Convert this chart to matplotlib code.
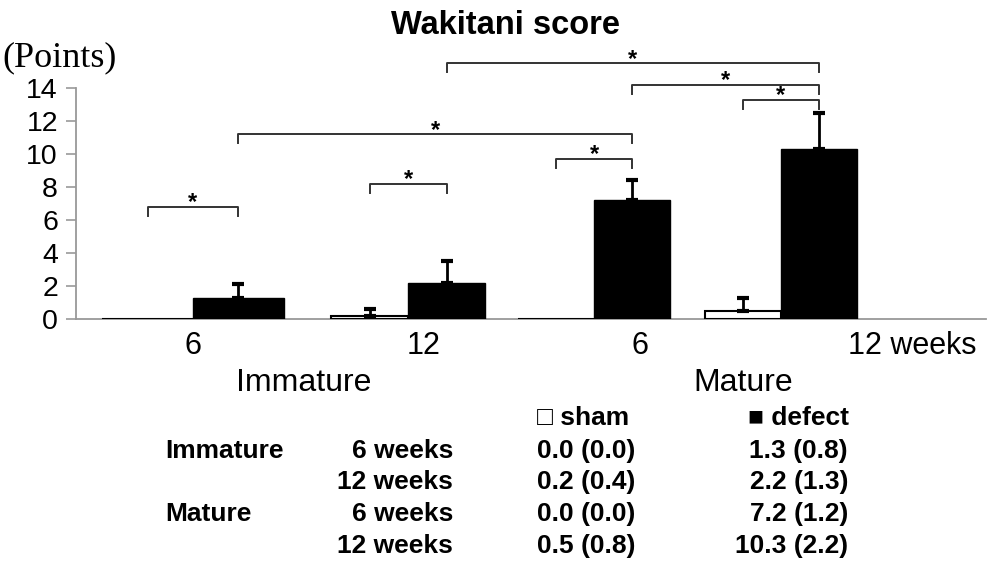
import matplotlib
matplotlib.use("Agg")
import matplotlib.pyplot as plt
import numpy as np

# ---------------- data ----------------
groups = ["Immature", "Mature"]
time_labels = ["6", "12", "6", "12 weeks"]
row_groups = ["Immature", "", "Mature", ""]
row_times = ["6 weeks", "12 weeks", "6 weeks", "12 weeks"]
sham_mean = [0.0, 0.2, 0.0, 0.5]
sham_sd = [0.0, 0.4, 0.0, 0.8]
defect_mean = [1.3, 2.2, 7.2, 10.3]
defect_sd = [0.8, 1.3, 1.2, 2.2]
yticks = [0, 2, 4, 6, 8, 10, 12, 14]
# significance comparisons: (group_a, series_a, group_b, series_b) ; series 0=sham 1=defect
comparisons = [(0, 0, 0, 1), (1, 0, 1, 1), (2, 0, 2, 1), (0, 1, 2, 1),
               (3, 0, 3, 1), (2, 1, 3, 1), (1, 1, 3, 1)]

# ---------------- layout ----------------
W, H = 991, 580
group_x = [1.93, 4.08, 5.94, 7.81]          # boundary between sham/defect bars
bar_w = [0.91, 0.77, 0.76, 0.76]
tick_x = [1.93, 4.24, 6.40, 9.12]
bracket_y = [6.8, 8.2, 9.7, 11.2, 13.3, 14.2, 15.5]
drop = 0.55

SANS = ["Liberation Sans", "DejaVu Sans"]
plt.rcParams["font.family"] = SANS

fig = plt.figure(figsize=(W / 100, H / 100), dpi=100)
ax = fig.add_axes([76 / W, 1 - 319 / H, (986 - 76) / W, (319 - 88) / H])

gx = np.array(group_x)
bw = np.array(bar_w)
sham_x = gx - bw / 2
def_x = gx + bw / 2

ax.bar(sham_x, sham_mean, width=bw, color="white", edgecolor="black",
       linewidth=1.5, zorder=3)
ax.bar(def_x, defect_mean, width=bw, color="black", edgecolor="black",
       linewidth=1.0, zorder=3)

sm, ss = np.array(sham_mean), np.array(sham_sd)
dm, ds = np.array(defect_mean), np.array(defect_sd)
mask = ss > 0
ax.errorbar(sham_x[mask], sm[mask], yerr=[np.zeros(mask.sum()), ss[mask]],
            fmt="none", ecolor="black", elinewidth=2, capsize=4, capthick=3,
            zorder=4)
ax.errorbar(def_x, dm, yerr=[np.zeros(len(dm)), ds], fmt="none",
            ecolor="black", elinewidth=2, capsize=4, capthick=3, zorder=4)

centers = [sham_x, def_x]
for (ga, sa, gb, sb), yb in zip(comparisons, bracket_y):
    xa = centers[sa][ga]
    xb = centers[sb][gb]
    ax.plot([xa, xa, xb, xb], [yb - drop, yb, yb, yb - drop], color="#333333",
            linewidth=1.4, clip_on=False, zorder=5)
    ax.text((xa + xb) / 2, yb - 0.15, "*", ha="center", va="baseline",
            fontsize=17, fontweight="bold", color="black", clip_on=False)

ax.set_xlim(0.76, 9.86)
ax.set_ylim(0, 14)
ax.set_yticks(yticks)
ax.set_yticklabels([str(t) for t in yticks], fontsize=20.5)
ax.set_xticks(tick_x)
ax.set_xticklabels(time_labels, fontsize=22)
ax.tick_params(axis="x", length=0, pad=9)
ax.tick_params(axis="y", length=7, width=1.2, color="#999999", pad=6)
for s in ["top", "right"]:
    ax.spines[s].set_visible(False)
for s in ["left", "bottom"]:
    ax.spines[s].set_color("#999999")
    ax.spines[s].set_linewidth(1.3)

def fx(x):
    return x / W

def fy(y):
    return 1 - y / H

fig.text(fx(505), fy(25), "Wakitani score", ha="center", va="center",
         fontsize=23.5, fontweight="bold")
fig.text(fx(2), fy(58), "(Points)", ha="left", va="center", fontsize=26,
         family="Liberation Serif")
fig.text(fx(304), fy(383), groups[0], ha="center", va="center", fontsize=23)
fig.text(fx(743), fy(383), groups[1], ha="center", va="center", fontsize=23)

# table
tfs = 19
fig.text(fx(537), fy(418), "\u25a1 sham", ha="left", va="center", fontsize=tfs,
         family=SANS, fontweight="bold")
fig.text(fx(748), fy(418), "\u25a0 defect", ha="left", va="center", fontsize=tfs,
         family=SANS, fontweight="bold")
row_y = [451, 482, 514, 546]
for i, ry in enumerate(row_y):
    if row_groups[i]:
        fig.text(fx(165), fy(ry), row_groups[i], ha="left", va="center",
                 fontsize=tfs, fontweight="bold")
    fig.text(fx(453), fy(ry), row_times[i], ha="right", va="center",
             fontsize=tfs, fontweight="bold")
    fig.text(fx(537), fy(ry), f"{sham_mean[i]:.1f} ({sham_sd[i]:.1f})",
             ha="left", va="center", fontsize=tfs, fontweight="bold")
    fig.text(fx(848), fy(ry), f"{defect_mean[i]:.1f} ({defect_sd[i]:.1f})",
             ha="right", va="center", fontsize=tfs, fontweight="bold")

fig.savefig("out.png", dpi=100)
